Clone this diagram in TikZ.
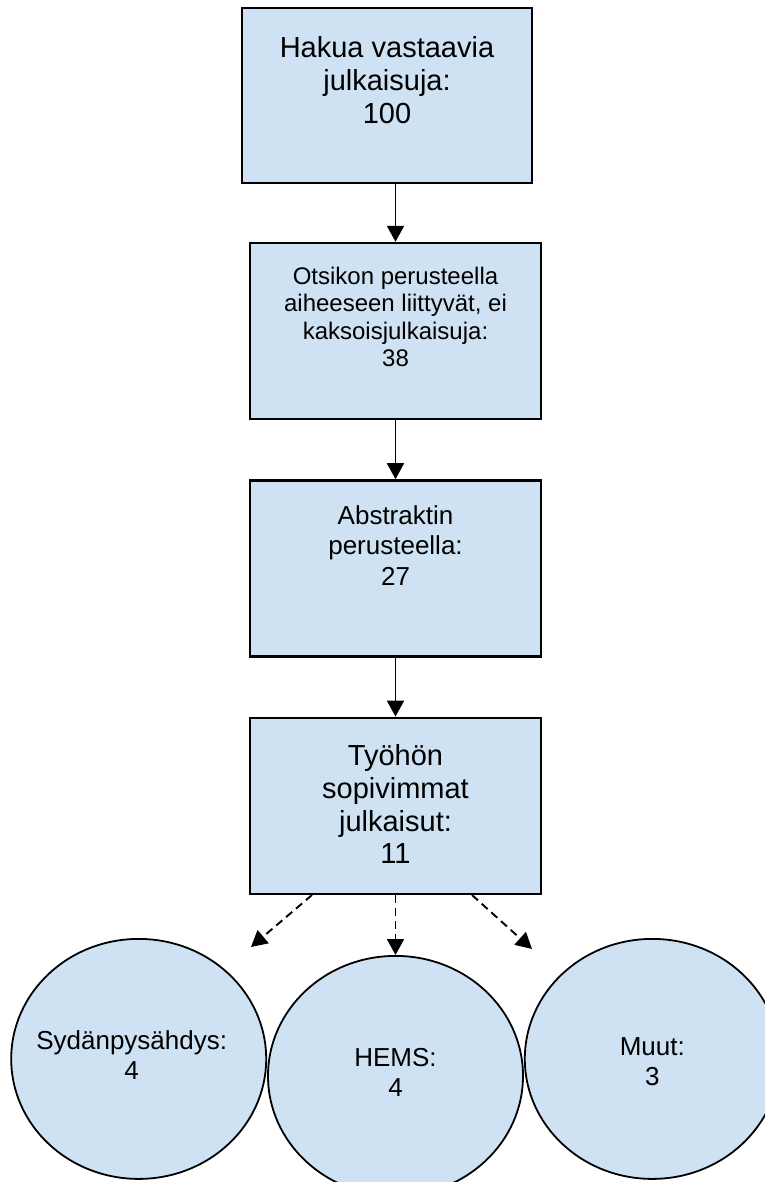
\documentclass[tikz,border=0pt]{standalone}
\usepackage{fontspec}
\setmainfont{Liberation Sans}
\usepackage{xcolor}
\usetikzlibrary{positioning}
\usetikzlibrary{shapes.geometric}
\usetikzlibrary{arrows.meta}
\definecolor{boxblue}{HTML}{CFE2F3}

\begin{document}
\begin{tikzpicture}[x=1pt, y=-1pt,
		box/.style={draw, line width=2.4pt, fill=boxblue, minimum width=291pt, minimum height=176pt, inner sep=0pt},
		boxtext/.style={anchor=north, align=center, inner sep=0pt},
		ympyra/.style={ellipse, draw, line width=1.8pt, fill=boxblue, minimum width=255pt, minimum height=240pt, inner sep=0pt},
		ympyratext/.style={align=center, inner sep=0pt, font=\fontsize{26}{30}\selectfont},
		nuoli/.style={-{Triangle[length=16pt,width=17pt]}, line width=1.9pt},
		katko/.style={nuoli, dash pattern=on 8pt off 5pt},
		node distance=59pt]
		\useasboundingbox (0,0) rectangle (764,1182);
		% laatikot
		\node[box, minimum width=290pt, minimum height=175pt] (hakua) at (387,95.5) {};
		\node[box] (otsikko) at (395.5,331) {};
		\node[box, below=of otsikko] (abstrakti) {};
		\node[box, below=of abstrakti] (tyo) {};
		\node[boxtext, font=\fontsize{29}{33}\selectfont] (hakuatxt) at ([yshift=-29pt]hakua.north) {Hakua vastaavia\\julkaisuja:\\100};
		\node[boxtext, font=\fontsize{24}{27.5}\selectfont] (otsikkotxt) at ([yshift=-25pt]otsikko.north) {Otsikon perusteella\\aiheeseen liittyvät, ei\\kaksoisjulkaisuja:\\38};
		\node[boxtext, font=\fontsize{26}{30.5}\selectfont] (abstraktitxt) at ([yshift=-26pt]abstrakti.north) {Abstraktin\\perusteella:\\27};
		\node[boxtext, font=\fontsize{29}{32.7}\selectfont] (tyotxt) at ([yshift=-28pt]tyo.north) {Työhön\\sopivimmat\\julkaisut:\\11};
		\draw[nuoli] (hakua.south -| otsikko.north) -- (otsikko.north);
		\draw[nuoli] (otsikko.south) -- (abstrakti.north);
		\draw[nuoli] (abstrakti.south) -- (tyo.north);
		% ympyrat
		\node[ympyra, below=60pt of tyo] (hems) {};
		\node[ympyra, left=0pt of hems, yshift=17pt] (sydan) {};
		\node[ympyra, right=0pt of hems, yshift=17pt] (muut) {};
		\node[ympyratext] (sydantxt) at ([xshift=-7pt,yshift=3.5pt]sydan.center) {Sydänpysähdys:\\4};
		\node[ympyratext] (hemstxt) at ([yshift=3.5pt]hems.center) {HEMS:\\4};
		\node[ympyratext] (muuttxt) at ([yshift=-3pt]muut.center) {Muut:\\3};
		\coordinate (sydanpaa) at (251,947);
		\coordinate (muutpaa) at (532,949);
		\draw[katko] ([xshift=-83.5pt]tyo.south) -- (sydanpaa);
		\draw[katko] (tyo.south) -- (hems.north);
		\draw[katko] ([xshift=76.5pt]tyo.south) -- (muutpaa);
	\end{tikzpicture}
\end{document}
